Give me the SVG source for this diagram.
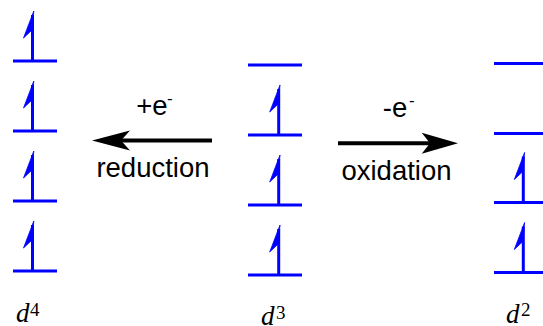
<svg xmlns="http://www.w3.org/2000/svg" width="543" height="326" viewBox="0 0 543 326">
<defs>
<style>
.lvl{stroke:#0000FF;stroke-width:3;fill:none}
.stem{stroke:#0000FF;stroke-width:3;fill:none}
.head{fill:#0000FF;stroke:#0000FF;stroke-width:0.8;stroke-linejoin:miter}
.arr{stroke:#000;stroke-width:4;fill:none}
.ah{fill:#000;stroke:none}
.t{font-family:"Liberation Sans",Arial,sans-serif;font-size:27.5px;fill:#000}
.sup{font-family:"Liberation Sans",Arial,sans-serif;font-size:17px;fill:#000}
.d{font-family:"Liberation Serif","Times New Roman",serif;font-style:italic;font-size:27px;fill:#000}
.dn{font-family:"Liberation Serif","Times New Roman",serif;font-size:19px;fill:#000}
</style>
<g id="spin">
<line class="stem" x1="0" y1="0" x2="0" y2="-46"/>
<path class="head" d="M1.3,-50 L-9,-23 L-0.5,-31 Z"/>
</g>
</defs>
<g id="d4">
<line class="lvl" x1="13" y1="61" x2="57" y2="61"/>
<line class="lvl" x1="13" y1="131" x2="57" y2="131"/>
<line class="lvl" x1="13" y1="201" x2="57" y2="201"/>
<line class="lvl" x1="13" y1="271" x2="57" y2="271"/>
<use href="#spin" x="32.5" y="61"/>
<use href="#spin" x="32.5" y="131"/>
<use href="#spin" x="32.5" y="201"/>
<use href="#spin" x="32.5" y="271"/>
<text class="d" x="16" y="322">d</text><text class="dn" x="30" y="316">4</text>
</g>
<g id="d3">
<line class="lvl" x1="248" y1="65" x2="302" y2="65"/>
<line class="lvl" x1="248" y1="135" x2="302" y2="135"/>
<line class="lvl" x1="248" y1="205" x2="302" y2="205"/>
<line class="lvl" x1="248" y1="275" x2="302" y2="275"/>
<use href="#spin" x="278.7" y="135"/>
<use href="#spin" x="278.7" y="205"/>
<use href="#spin" x="278.7" y="275"/>
<text class="d" x="261" y="325">d</text><text class="dn" x="276" y="319">3</text>
</g>
<g id="d2">
<line class="lvl" x1="494" y1="63.5" x2="543" y2="63.5"/>
<line class="lvl" x1="494" y1="133.5" x2="543" y2="133.5"/>
<line class="lvl" x1="494" y1="202.5" x2="543" y2="202.5"/>
<line class="lvl" x1="494" y1="272.5" x2="543" y2="272.5"/>
<use href="#spin" x="523.3" y="202.5"/>
<use href="#spin" x="523.3" y="272.5"/>
<text class="d" x="506" y="323">d</text><text class="dn" x="521" y="316">2</text>
</g>
<g id="connectors">
<g id="reduction">
<line class="arr" x1="212" y1="140.5" x2="115" y2="140.5"/>
<path class="ah" d="M92,140.5 L130,130.5 L121,140.5 L130,150.5 Z"/>
<text class="t" x="152" y="115" text-anchor="middle">+e</text><text class="sup" x="167" y="104">-</text>
<text class="t" x="153" y="177" text-anchor="middle">reduction</text>
</g>
<g id="oxidation">
<line class="arr" x1="338" y1="143.3" x2="435" y2="143.3"/>
<path class="ah" d="M458,143.3 L421.7,132.7 L430,143.3 L421.7,153.7 Z"/>
<text class="t" x="395" y="117" text-anchor="middle">-e</text><text class="sup" x="409" y="106">-</text>
<text class="t" x="396.5" y="179.5" text-anchor="middle">oxidation</text>
</g>
</g>
</svg>
